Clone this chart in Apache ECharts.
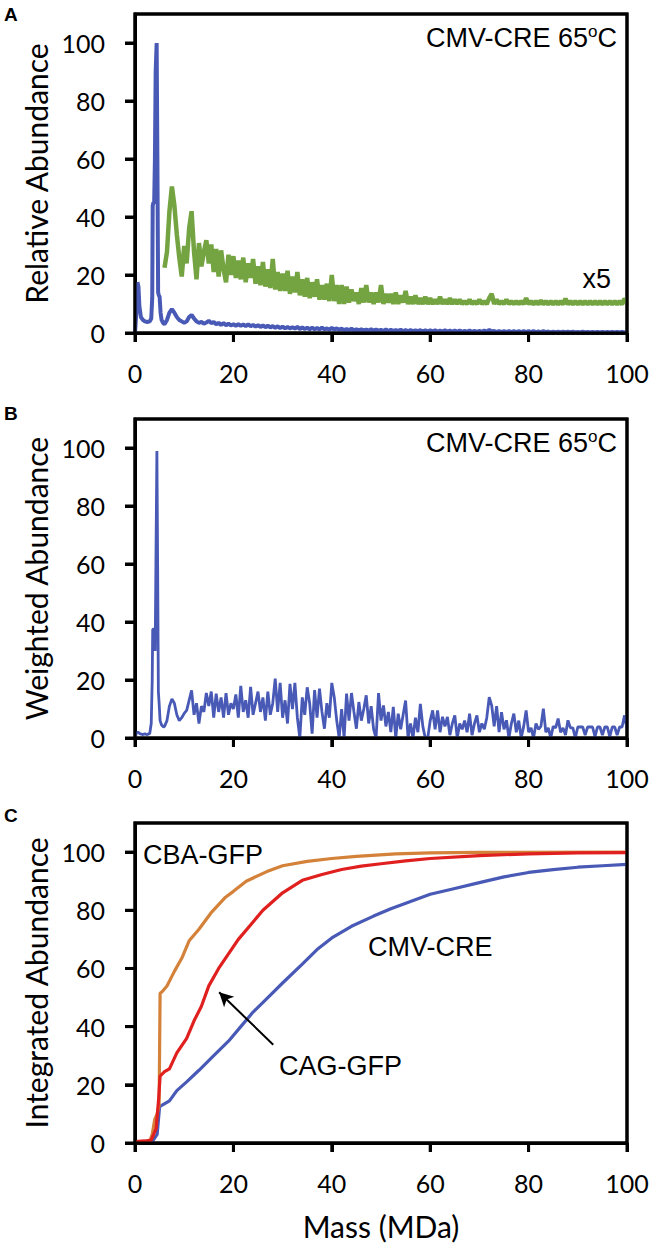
<!DOCTYPE html>
<html><head><meta charset="utf-8">
<script src="https://cdn.jsdelivr.net/npm/echarts@6/dist/echarts.min.js"></script>
<style>html,body{margin:0;padding:0;background:#fff}#c{width:654px;height:1244px}</style>
</head><body><div id="c"></div>
<script>
// ---------- DATA ----------
const xTicks = [0, 20, 40, 60, 80, 100];
const yTicks = [0, 20, 40, 60, 80, 100];

// common mass bins (MDa) for the noisy tails
const massGrid = [6,6.5,7,7.5,8,8.5,9,9.5,10,10.5,11,11.5,12,12.5,13,13.5,14,14.5,15,15.5,16,16.5,17,17.5,18,18.5,19,19.5,20,20.5,21,21.5,22,22.5,23,23.5,24,24.5,25,25.5,26,26.5,27,27.5,28,28.5,29,29.5,30,30.5,31,31.5,32,32.5,33,33.5,34,34.5,35,35.5,36,36.5,37,37.5,38,38.5,39,39.5,40,40.5,41,41.5,42,42.5,43,43.5,44,44.5,45,45.5,46,46.5,47,47.5,48,48.5,49,49.5,50,50.5,51,51.5,52,52.5,53,53.5,54,54.5,55,55.5,56,56.5,57,57.5,58,58.5,59,59.5,60,60.5,61,61.5,62,62.5,63,63.5,64,64.5,65,65.5,66,66.5,67,67.5,68,68.5,69,69.5,70,70.5,71,71.5,72,72.5,73,73.5,74,74.5,75,75.5,76,76.5,77,77.5,78,78.5,79,79.5,80,80.5,81,81.5,82,82.5,83,83.5,84,84.5,85,85.5,86,86.5,87,87.5,88,88.5,89,89.5,90,90.5,91,91.5,92,92.5,93,93.5,94,94.5,95,95.5,96,96.5,97,97.5,98,98.5,99,99.5,100];

// Panel A: relative abundance (blue) and x5 trace (green)
const aBlueHeadX = [0,0.3,0.5,0.7,0.9,1.2,1.6,2.0,2.5,3.0,3.3,3.5,3.6,3.75,3.9,4.05,4.2,4.4,4.55,4.7,4.85,5.0,5.2,5.4,5.7];
const aBlueHeadY = [0,8,17.5,16,9,5.5,4.5,4,3.8,4,5,12,44,45,45,60,90,100,60,14,13,12.5,7,4.5,3.5];
const aBlueTail = [
  3,4.5,7,8.2,7,5.5,4.5,4,3.5,4,
  5.5,6.2,5,4,3.5,3.8,3.2,3.6,4.2,3.4,
  3.8,3,3.5,2.8,3.4,2.7,3.2,2.6,3,2.5,
  3.1,2.5,2.9,2.4,3,2.3,2.8,2.2,2.7,2.1,
  2.6,2,2.5,1.9,2.4,1.8,2.3,1.7,2.2,1.6,
  2.1,1.6,2,1.5,2.1,1.4,1.9,1.4,1.8,1.3,
  1.8,1.3,1.7,1.2,1.9,1.2,1.6,1.1,1.8,1.2,
  1.6,1.1,1.5,1,1.4,1,1.5,0.9,1.3,0.9,
  1.3,0.9,1.2,0.8,1.3,0.8,1.2,0.8,1.1,0.7,
  1.2,0.7,1.1,0.7,1,0.7,1.1,0.6,1,0.6,
  1,0.6,0.9,0.6,1,0.5,0.9,0.5,0.9,0.5,
  0.9,0.5,0.8,0.5,0.9,0.5,0.8,0.4,0.8,0.4,
  0.8,0.4,0.7,0.4,0.8,0.4,0.7,0.4,0.7,0.4,
  0.8,0.4,1.1,0.5,0.7,0.3,0.7,0.3,0.6,0.3,
  0.7,0.3,0.6,0.3,0.6,0.3,0.6,0.3,0.6,0.3,
  0.6,0.3,0.5,0.3,0.6,0.3,0.5,0.2,0.5,0.2,
  0.5,0.2,0.5,0.2,0.5,0.2,0.5,0.2,0.4,0.2,
  0.5,0.2,0.4,0.2,0.4,0.2,0.4,0.2,0.4,0.2,
  0.4,0.2,0.4,0.2,0.4,0.2,0.4,0.2,0.3];
const aGreen = [
  22.5,28,42,50.5,44,34,26,19.5,30,24,
  36,42,28,18.5,31,23,28,32,24,30.5,
  21,29,19.5,28.5,22,17.5,27,20,26.5,19,
  25,18.5,26,17.5,24,19,25.5,17,23,16.5,
  24.5,16,22,15.5,25.5,15,21,14.5,20.5,14.5,
  21.5,13.5,19.5,14,21,13,18.5,12.5,19,12,
  17.5,12.5,18.5,11.5,16.5,11.5,17,11,20,11,
  16.5,10,16.5,10,16,10.5,15,11,14,10,
  15.5,10.5,16.5,10.5,14,10,14,10.5,16.5,10,
  13.5,10.5,13.5,10,14,10,13,10.5,14.5,10,
  12.5,10,13,10,12,10,12.5,10,12,10,
  11.5,10,12.5,10,11.5,10,12,10,11.5,10,
  11.5,10,11,10,11.5,10,11,10,11.5,10,
  11,10,12,13.5,10,11.5,10,11,10,11.5,
  10,11,10,11,10,11,10,12,10,11,
  9.9,11,9.9,11.2,9.9,11,9.9,11,9.9,11,
  9.9,11,9.9,11.8,9.9,11,9.9,11,9.9,11,
  9.9,11,9.9,11,9.9,11,9.9,11,9.9,11,
  9.9,11,9.9,11,9.9,11,9.9,11.8,10.5];

// Panel B: weighted abundance
const bBlueHeadX = [0,0.3,0.6,1,1.5,2,2.5,3,3.3,3.5,3.6,3.9,4.1,4.25,4.45,4.6,4.75,4.9,5.1,5.4,5.8];
const bBlueHeadY = [0,1.8,2,1.5,1.2,1.4,1.2,1.6,5,20,37.5,37.5,30,60,99,60,16,12,6,4.5,3.8];
const bBlueTail = [
  4,6,11,13.5,12,8,6,7,8.5,9.5,
  13,16.4,8,12,5,11,9,15.5,11,16,
  7,15.3,9,14,7,15.5,8,12,10,15,
  7,18,9,13,7,17.6,8,12,16,9,
  14,6,16,8,12,20.5,9,19,7,13,
  5,18.7,10,19,7,0,14,8,17.5,12,
  1.5,16.5,7,17,9,3.2,12,7,19,14,
  6,0,10,0,15.3,6,15.5,9,3.2,12.4,
  6,10,14.7,5,11,3,0,15.5,6,11.2,
  4,9,2,10.7,0,8.4,3,8,12.9,0,
  5,0,7,2,11.8,4,0,0,6,9.5,
  3,9.5,2,7.3,4,7.3,1,5,7.8,0,
  5,3,6,2,8.4,1,5,7.8,2,5,
  3,7,14.1,11.2,4,11,2,8.9,3,6.1,
  0,5,8.4,2,6,0,4,9.5,2,3.5,
  0,5,3,4,10.1,2,3.5,0,4,3.5,
  6.7,2,3.5,1,6.1,3.5,3.5,0,3.8,3.8,
  3.8,1,3.8,3.8,3.8,0.5,3.8,3.8,1,3.8,
  3.8,0.5,3.8,3.8,1,3.8,3.8,7.8,3.2];

// Panel C: integrated abundance
const cMassCBA = [0,2,3,3.5,4,4.5,4.9,5.1,5.5,6.5,8,9.5,11,13,15.4,18.4,20,22.6,26.8,30,35,40,45,53,60,70,100];
const cCBA     = [0,0.3,0.6,3,8,10,13,51.5,52,54,59,63.5,69.5,73.5,79,84.5,86.5,90,93.3,95.3,96.8,97.8,98.5,99.4,99.7,99.9,100];
const cMassCAG = [0,2,3.3,4.3,4.8,5.1,6,7,8.5,10.5,12,13.5,15,17,19,21,24,26,30,34,38,42,46,50,55,60,70,80,90,100];
const cCAG     = [0.5,0.7,1,5,15,23,24.5,25.5,31,36,42,47,54,60,65,70,76,80,86,90.3,92.3,94,95.2,96,97,97.8,98.8,99.4,99.7,99.8];
const cMassCMV = [0,2,3.5,4.5,5,7,8.5,10.5,13,16,19,21.5,24,27,30,34,37,40,44,48.5,52,56,60,65,70,75,80,85,90,95,100];
const cCMV     = [0,0.3,0.5,3,12.5,14.5,18,21,25,30,35,40,45,50,55,61.5,66.5,70.5,74.5,78,80.5,83,85.5,87.5,89.5,91.5,93,94,94.8,95.3,95.8];
const arrowTail = [28.1, 33.8];
const arrowHead = [17.1, 51.8];

// ---------- CHART ----------
const chart = echarts.init(document.getElementById('c'), null, {renderer: 'svg'});
function pairs(xs, ys) { return xs.map((x, i) => [x, ys[i]]); }
const BLUE = '#4859B6', GREEN = '#74A341', ORANGE = '#D4813A', RED = '#E0201E';
const tickFont = {fontFamily: 'Lato', fontSize: 25, color: '#000'};
const titleFont = {fontFamily: 'Lato', fontSize: 30, color: '#000'};
const annFont = 'Liberation Sans, Arial, sans-serif';
const AXW = 3, XMAX = 100, YMAX = 110;

function mkX(gi, name) {
  return {
    type: 'value', gridIndex: gi, min: 0, max: XMAX, interval: 20,
    axisLine: {show: true, lineStyle: {color: '#000', width: AXW}},
    axisTick: {show: true, length: 9, lineStyle: {color: '#000', width: AXW}},
    axisLabel: Object.assign({margin: 27}, tickFont),
    splitLine: {show: false},
    name: name || '', nameLocation: 'middle', nameGap: 68, nameTextStyle: titleFont
  };
}
function mkY(gi, name) {
  return {
    type: 'value', gridIndex: gi, min: 0, max: YMAX, interval: 20,
    axisLine: {show: true, lineStyle: {color: '#000', width: AXW}},
    axisTick: {show: true, length: 10, lineStyle: {color: '#000', width: AXW}},
    axisLabel: Object.assign({margin: 30, showMaxLabel: false,
      formatter: v => (yTicks.indexOf(v) >= 0 ? String(v) : '')}, tickFont),
    splitLine: {show: false},
    name: name, nameLocation: 'middle', nameGap: 76, nameTextStyle: titleFont
  };
}
function line(gi, data, color, width, extra) {
  return Object.assign({
    type: 'line', xAxisIndex: gi, yAxisIndex: gi, data: data, showSymbol: false, symbol: 'none',
    lineStyle: {color: color, width: width}, itemStyle: {color: color}
  }, extra || {});
}
// frame + ticks as a custom series, positioned with the axes via api.coord
const tickData = [[0, 0]].concat(yTicks.map(v => [1, v]), xTicks.map(v => [2, v]));
function axisFrame(gi) {
  return {
    type: 'custom', xAxisIndex: gi, yAxisIndex: gi, z: 10, clip: false,
    data: tickData,
    renderItem: function (params, api) {
      const kind = api.value(0), v = api.value(1);
      const o = api.coord([0, 0]), t = api.coord([XMAX, YMAX]);
      const st = {stroke: '#000', lineWidth: AXW, fill: null};
      if (kind === 0) {
        return {type: 'rect', shape: {x: o[0], y: t[1], width: t[0] - o[0], height: o[1] - t[1]}, style: st};
      }
      if (kind === 1) {
        const p = api.coord([0, v]);
        return {type: 'line', shape: {x1: o[0] - 10, y1: p[1], x2: o[0], y2: p[1]}, style: st};
      }
      const p = api.coord([v, 0]);
      return {type: 'line', shape: {x1: p[0], y1: o[1], x2: p[0], y2: o[1] + 9}, style: st};
    }
  };
}
function mkGrid(top, height) {
  return {left: 135, width: 492, top: top, height: height, show: true, borderColor: '#000', borderWidth: AXW};
}
function label(x, y, text, size, align, bold) {
  return {type: 'text', x: x, y: y, z: 100, style: {text: text, fontFamily: bold ? 'Liberation Sans, Arial' : annFont,
    fontWeight: bold ? 'bold' : 'normal', fontSize: size, fill: '#000', align: align, verticalAlign: 'middle'}};
}
function tempLabel(x, y) {
  return {type: 'text', x: x, y: y, z: 100, style: {
    text: '{a|CMV-CRE 65}{s|o}{a|C}', align: 'right', verticalAlign: 'middle', fill: '#000',
    rich: {a: {fontFamily: annFont, fontSize: 27, lineHeight: 30, fill: '#000'},
           s: {fontFamily: annFont, fontSize: 17, lineHeight: 17, verticalAlign: 'top', fill: '#000'}}}};
}

chart.setOption({
  animation: false,
  grid: [mkGrid(14, 319), mkGrid(419, 319), mkGrid(823, 320)],
  xAxis: [mkX(0), mkX(1), mkX(2, 'Mass (MDa)')],
  yAxis: [mkY(0, 'Relative Abundance'), mkY(1, 'Weighted Abundance'), mkY(2, 'Integrated Abundance')],
  series: [
    line(0, pairs(aBlueHeadX.concat(massGrid), aBlueHeadY.concat(aBlueTail)), BLUE, 4),
    line(0, pairs(massGrid, aGreen), GREEN, 4.5),
    line(1, pairs(bBlueHeadX.concat(massGrid), bBlueHeadY.concat(bBlueTail)), BLUE, 2.8),
    line(2, pairs(cMassCMV, cCMV), BLUE, 3.2),
    line(2, pairs(cMassCBA, cCBA), ORANGE, 3.2),
    line(2, pairs(cMassCAG, cCAG), RED, 3.2, {
      markLine: {silent: true, symbol: ['none', 'arrow'], symbolSize: [11, 14],
        lineStyle: {color: '#000', width: 2, type: 'solid'}, label: {show: false},
        data: [[{coord: arrowTail}, {coord: arrowHead}]]}
    }),
    axisFrame(0), axisFrame(1), axisFrame(2)
  ],
  graphic: [
    label(4, 14, 'A', 19, 'left', true),
    label(4, 413, 'B', 19, 'left', true),
    label(4, 815, 'C', 19, 'left', true),
    tempLabel(617, 38),
    tempLabel(617, 443),
    label(611, 279, 'x5', 27, 'right'),
    label(143, 855, 'CBA-GFP', 27, 'left'),
    label(368, 947, 'CMV-CRE', 27, 'left'),
    label(279, 1066, 'CAG-GFP', 27, 'left')
  ]
});
</script></body></html>
